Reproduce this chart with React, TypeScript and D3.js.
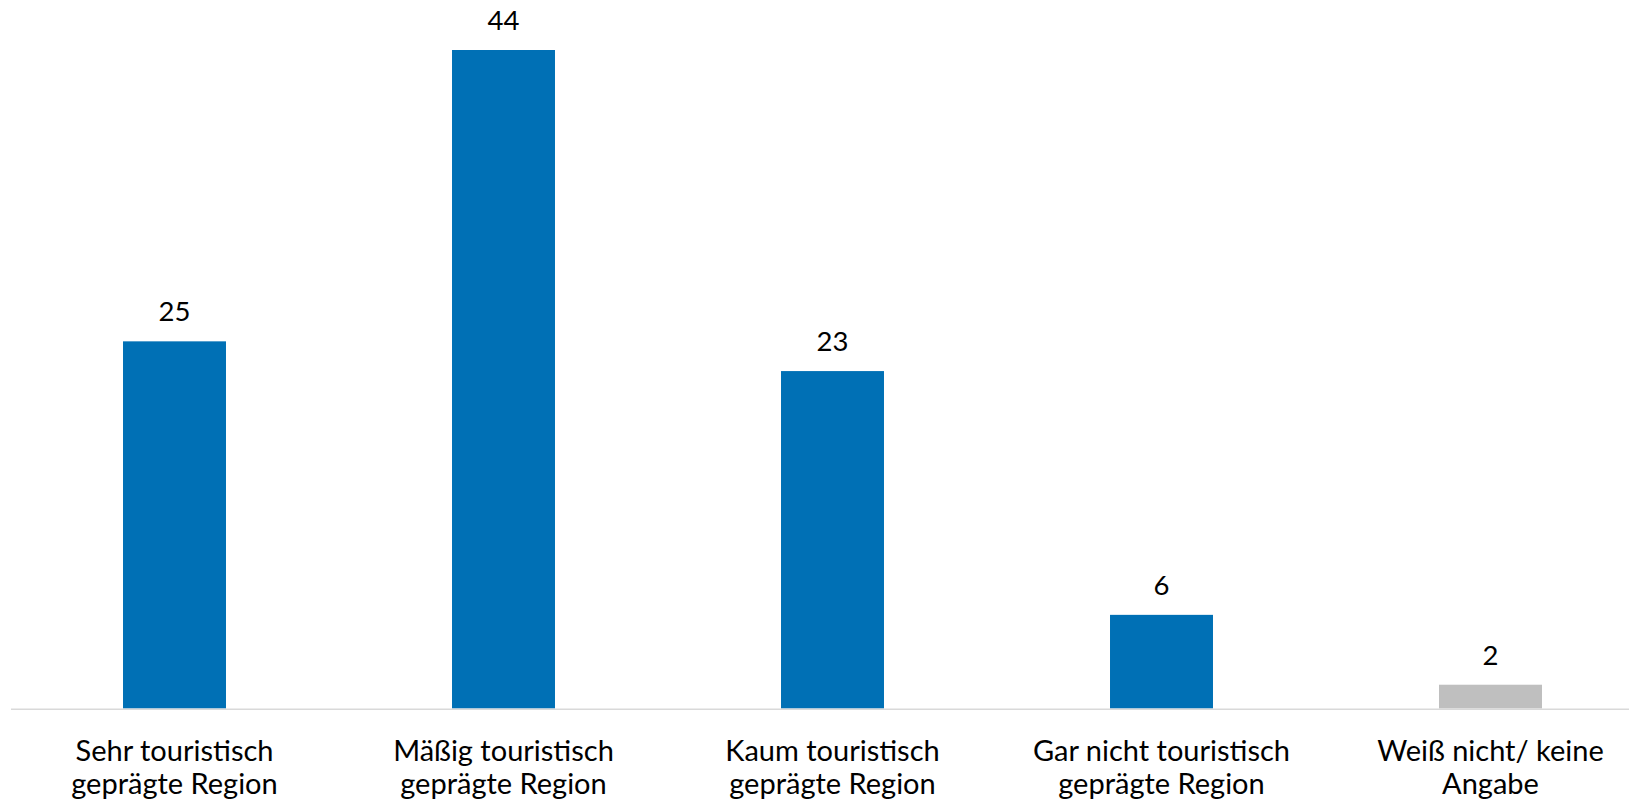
import React from 'react';
import { scaleBand, scaleLinear } from 'd3';

const categories = [
  ['Sehr touristisch', 'geprägte Region'],
  ['Mäßig touristisch', 'geprägte Region'],
  ['Kaum touristisch', 'geprägte Region'],
  ['Gar nicht touristisch', 'geprägte Region'],
  ['Weiß nicht/ keine', 'Angabe'],
];
const values = [24.7, 44.3, 22.7, 6.3, 1.6];
const valueLabels = ['25', '44', '23', '6', '2'];
const colors = ['#0070b5', '#0070b5', '#0070b5', '#0070b5', '#bfbfbf'];

const width = 1629;
const height = 808;
const baseline = 708.5;

const App = () => {
  const x = scaleBand<number>()
    .domain(values.map((_, i) => i))
    .range([10, 1655])
    .paddingInner(0.687)
    .paddingOuter(0.3435);

  const y = scaleLinear().domain([0, 44.3]).range([baseline, 50]);

  return (
    <svg
      width={width}
      height={height}
      style={{ position: 'absolute', left: 0, top: 0, display: 'block', background: '#fff' }}
      fontFamily="Lato, 'Open Sans', sans-serif"
    >
      {values.map((v, i) => (
        <g key={i}>
          <rect
            x={x(i)}
            y={y(v)}
            width={x.bandwidth()}
            height={baseline - y(v)}
            fill={colors[i]}
          />
          <text
            x={x(i)! + x.bandwidth() / 2}
            y={y(v) - 20}
            textAnchor="middle"
            fontSize={27.5}
            fill="#000"
          >
            {valueLabels[i]}
          </text>
          {categories[i].map((line, j) => (
            <text
              key={j}
              x={x(i)! + x.bandwidth() / 2}
              y={761 + j * 32.5}
              textAnchor="middle"
              fontSize={29}
              fill="#000"
            >
              {line}
            </text>
          ))}
        </g>
      ))}
      <line x1={11} x2={width} y1={709.3} y2={709.3} stroke="#d9d9d9" strokeWidth={1.5} />
    </svg>
  );
};

export default App;
